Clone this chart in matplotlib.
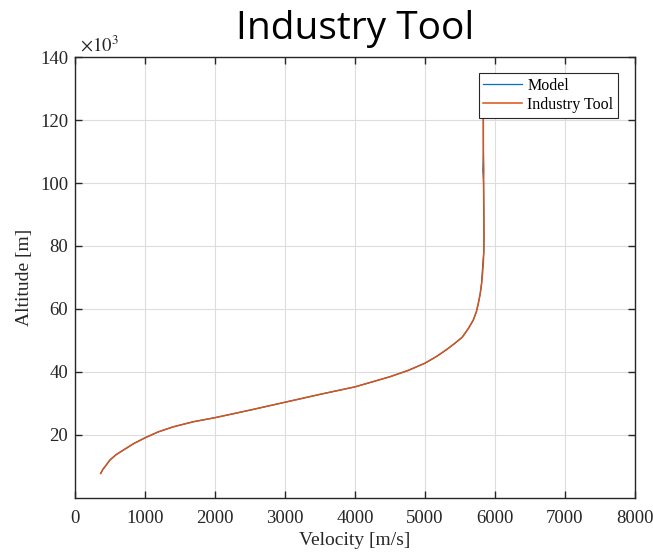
import matplotlib.pyplot as plt
from matplotlib.ticker import MultipleLocator

# altitude in units of 1e3 m, velocity in m/s
altitude = [7.8, 9.0, 10.0, 12.1, 13.8, 15.2, 17.3, 19.1, 21.0, 22.6, 24.2,
            25.5, 27.9, 30.4, 32.9, 35.3, 38.5, 40.5, 42.8, 45.0, 47.3, 49.0,
            51.0, 53.8, 56.5, 59.2, 61.8, 65.0, 68.2, 71.5, 74.5, 78.0, 82.0,
            90.0, 100.0, 104.0, 110.0, 120.0, 130.0]
vel_tool = [367, 395, 430, 500, 590, 690, 840, 1000, 1190, 1405, 1690,
            2000, 2500, 3000, 3500, 4004, 4500, 4760, 5000, 5170, 5320, 5420,
            5530, 5620, 5690, 5735, 5762, 5790, 5810, 5823, 5833, 5840, 5843,
            5841, 5837, 5840, 5834, 5833, 5833]
vel_model = [367, 395, 430, 500, 590, 690, 840, 1000, 1190, 1405, 1690,
             2000, 2500, 3000, 3500, 4004, 4500, 4760, 5000, 5170, 5320, 5420,
             5530, 5620, 5690, 5735, 5762, 5790, 5808, 5818, 5826, 5840, 5843,
             5841, 5837, 5826, 5834, 5833, 5833]

plt.rcParams['font.family'] = ['Liberation Serif', 'DejaVu Serif']
plt.rcParams['mathtext.fontset'] = 'stix'

fig = plt.figure(figsize=(6.53, 5.54), dpi=100)
ax = fig.add_axes([0.1149, 0.1011, 0.8575, 0.796])

ax.plot(vel_model, altitude, color='#0072BD', lw=0.9, label='Model')
ax.plot(vel_tool, altitude, color='#D95319', lw=1.1, label='Industry Tool')

ax.set_xlim(0, 8000)
ax.set_ylim(0, 140)
ax.xaxis.set_major_locator(MultipleLocator(1000))
ax.set_yticks(range(20, 141, 20))
ax.grid(True, color='#dddddd', lw=0.8)
ax.set_axisbelow(True)
ax.tick_params(direction='in', top=True, right=True, length=5, width=1,
               labelsize=13.5, colors='#262626')
ax.tick_params(axis='x', pad=9)
ax.tick_params(axis='y', pad=5)
for s in ax.spines.values():
    s.set_color('#262626')
    s.set_linewidth(1)

ax.set_xlabel('Velocity [m/s]', fontsize=14, color='#262626', labelpad=3)
ax.set_ylabel('Altitude [m]', fontsize=14, color='#262626', labelpad=5)
ax.text(0.008, 1.003, r'$\times 10^3$', transform=ax.transAxes, fontsize=13.5,
        color='#262626', ha='left', va='bottom')

leg = ax.legend(loc='upper right', bbox_to_anchor=(0.970, 0.964), fontsize=11.5,
                fancybox=False, framealpha=1, edgecolor='#262626',
                handlelength=2.4, borderpad=0.3, labelspacing=0.2,
                handletextpad=0.35, borderaxespad=0)
leg.get_frame().set_linewidth(0.8)

fig.text(0.5436, 0.947, 'Industry Tool', fontsize=28, family='Open Sans',
         ha='center', va='center', color='black')

fig.savefig('out.png', dpi=100)
